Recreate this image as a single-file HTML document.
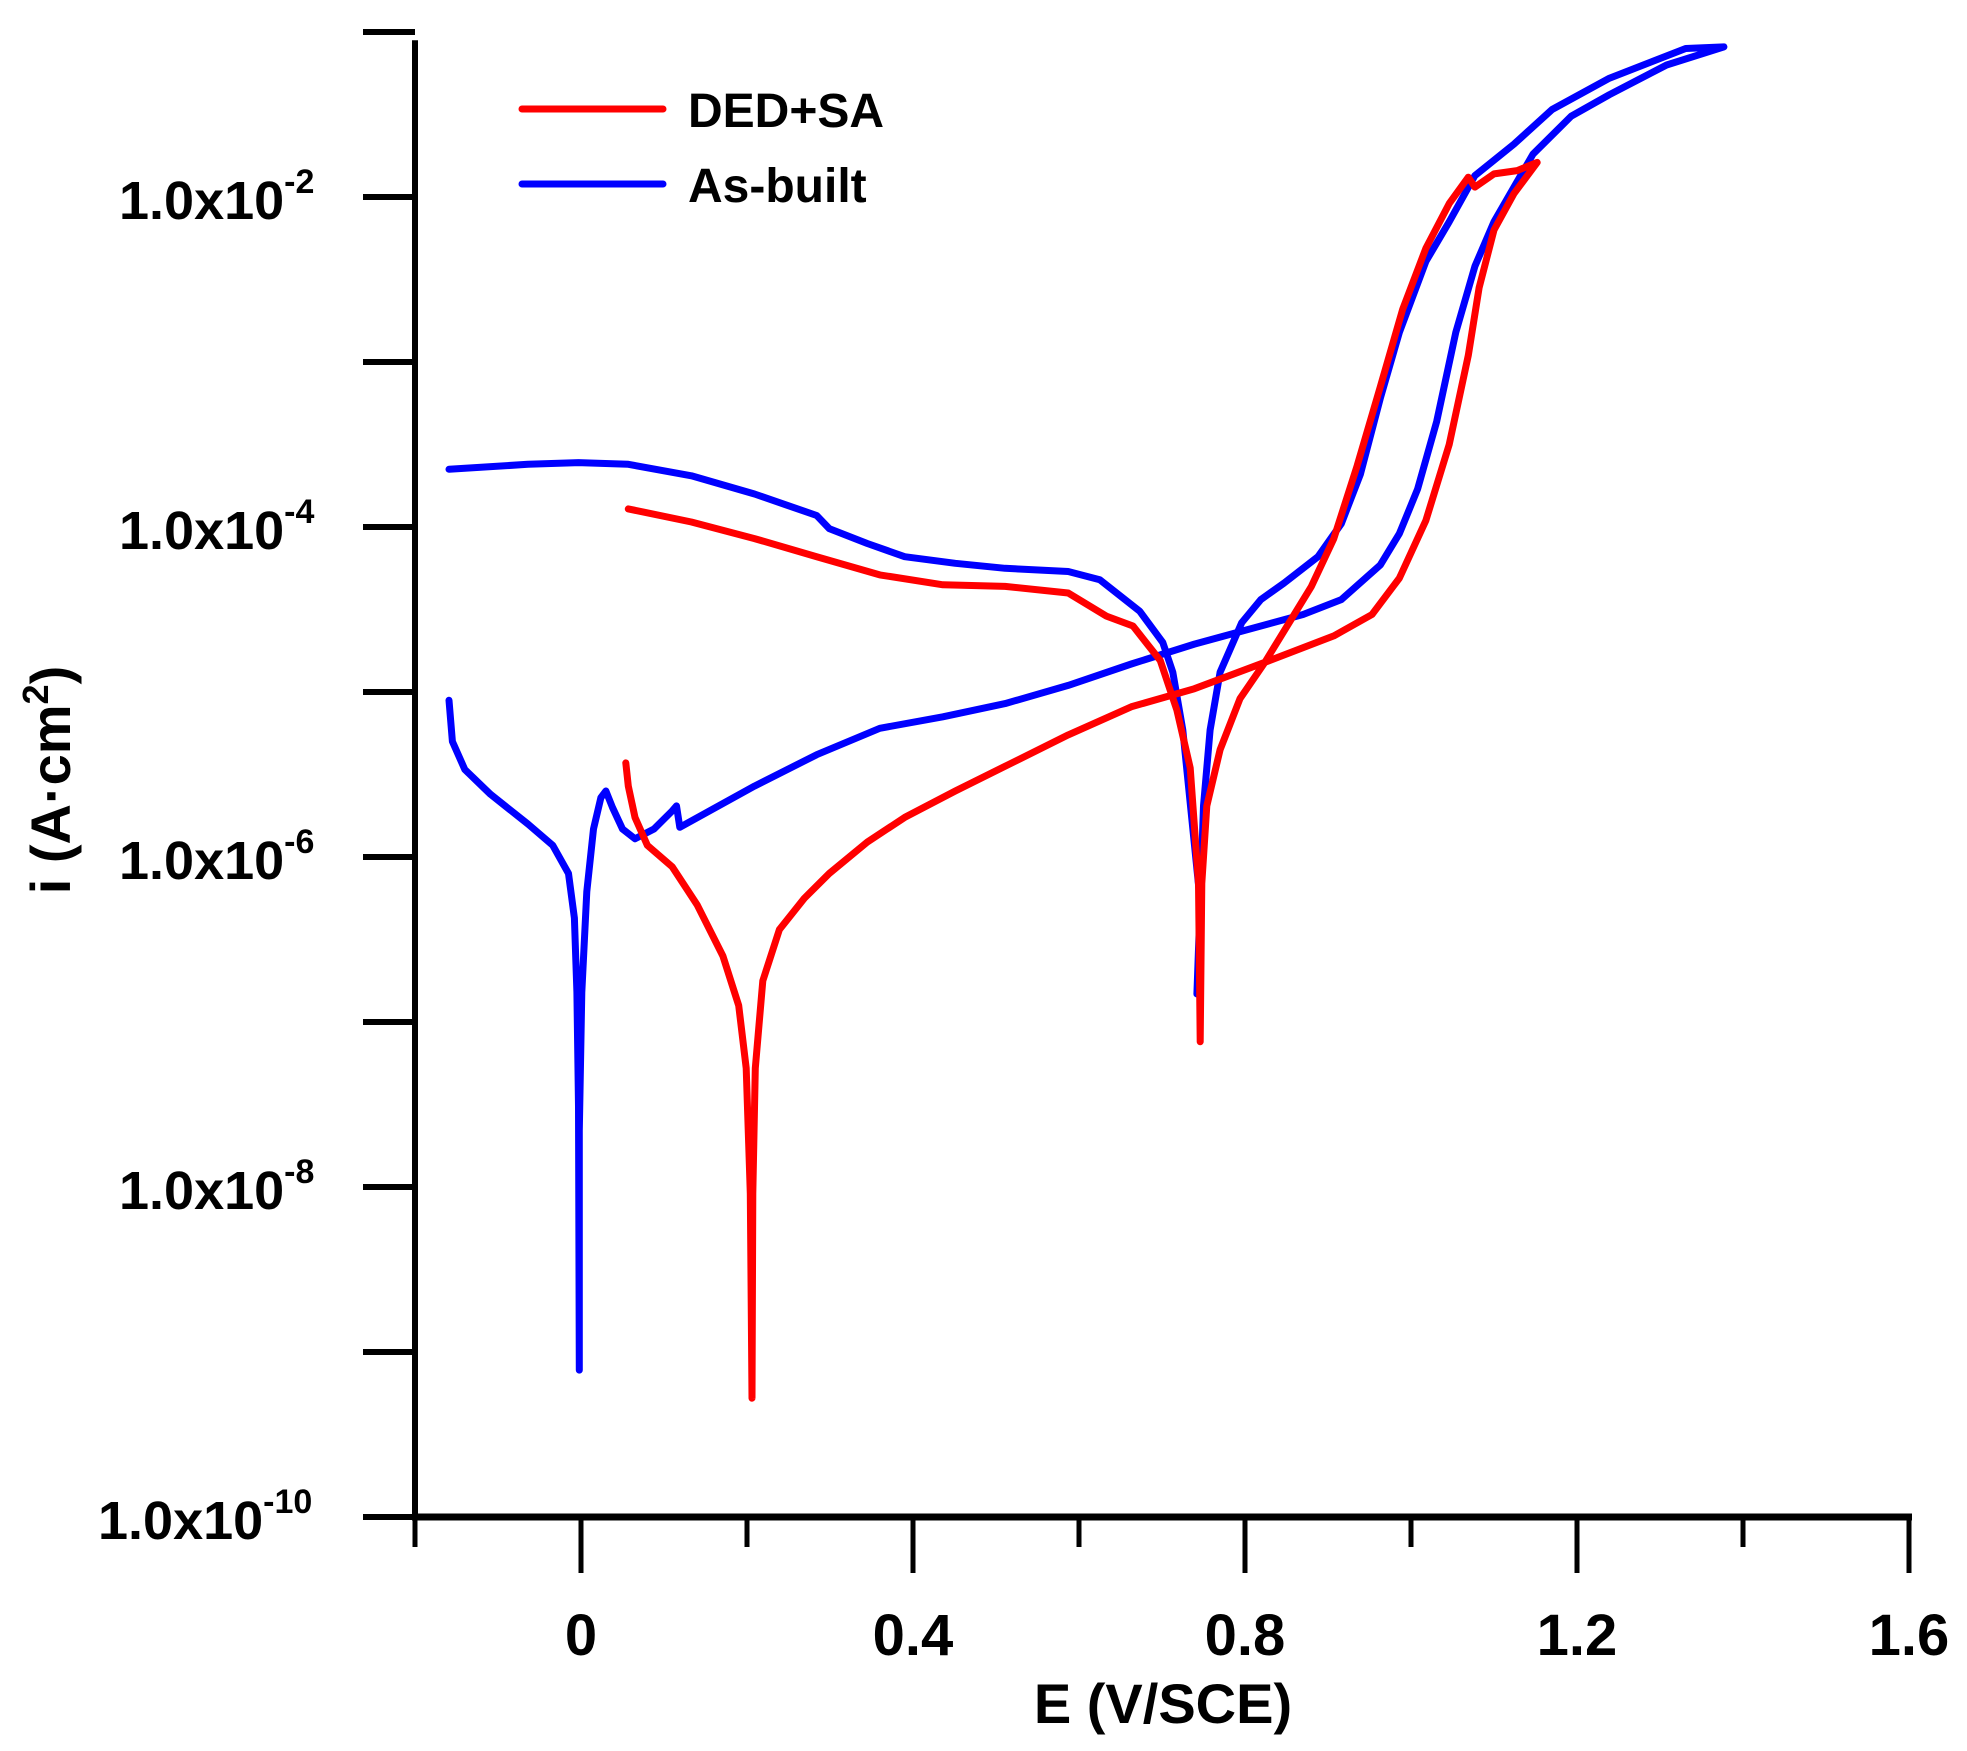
<!DOCTYPE html>
<html><head><meta charset="utf-8"><style>
body{margin:0;background:#fff}
svg{display:block}
text{font-family:"Liberation Sans",Arial,sans-serif;font-weight:bold;fill:#000}
</style></head><body>
<svg id="chart" width="1967" height="1751" viewBox="0 0 1967 1751" xmlns="http://www.w3.org/2000/svg">
<g id="axes"></g>
<g id="plot"></g>
<g>
<line x1="522" y1="109" x2="663" y2="109" stroke="#ff0000" stroke-width="7" stroke-linecap="round"/>
<text x="688" y="127" font-size="48">DED+SA</text>
<line x1="522" y1="184" x2="663" y2="184" stroke="#0000ff" stroke-width="7" stroke-linecap="round"/>
<text x="688" y="202" font-size="48">As-built</text>
</g>
<text x="1163" y="1723" font-size="56" text-anchor="middle">E (V/SCE)</text>
<text transform="translate(70,780) rotate(-90)" font-size="56" text-anchor="middle">i (A·cm<tspan font-size="36" dy="-22">2</tspan><tspan dy="22">)</tspan></text>
</svg>
<script>
const xTicks=[0,0.4,0.8,1.2,1.6];
const xTickLabels=["0","0.4","0.8","1.2","1.6"];
const yTickExps=[-2,-4,-6,-8,-10];
const yTickLabels=["-2","-4","-6","-8","-10"];
const blueE=[-0.159,-0.155,-0.140,-0.109,-0.064,-0.034,-0.015,-0.008,-0.005,-0.003,-0.002,-0.002,0.001,0.007,0.015,0.024,0.030,0.038,0.050,0.065,0.088,0.110,0.115,0.119,0.148,0.209,0.284,0.360,0.436,0.511,0.587,0.663,0.739,0.870,0.916,0.963,0.986,1.008,1.031,1.054,1.077,1.100,1.147,1.193,1.239,1.308,1.377,1.331,1.239,1.170,1.124,1.077,1.046,1.018,0.986,0.963,0.939,0.916,0.888,0.847,0.819,0.796,0.770,0.758,0.750,0.746,0.742,0.746,0.725,0.713,0.701,0.673,0.625,0.587,0.511,0.451,0.390,0.345,0.299,0.284,0.209,0.133,0.057,-0.003,-0.064,-0.159];
const blueLogI=[-5.05,-5.30,-5.47,-5.62,-5.80,-5.93,-6.10,-6.37,-6.82,-7.51,-9.11,-7.66,-6.82,-6.21,-5.83,-5.64,-5.60,-5.70,-5.83,-5.89,-5.83,-5.72,-5.69,-5.82,-5.74,-5.57,-5.38,-5.22,-5.15,-5.07,-4.96,-4.83,-4.71,-4.53,-4.44,-4.23,-4.04,-3.77,-3.36,-2.82,-2.42,-2.15,-1.74,-1.51,-1.38,-1.20,-1.09,-1.10,-1.28,-1.47,-1.68,-1.87,-2.15,-2.39,-2.82,-3.22,-3.68,-3.98,-4.18,-4.34,-4.44,-4.58,-4.88,-5.23,-5.69,-6.27,-6.83,-6.27,-5.23,-4.88,-4.70,-4.51,-4.32,-4.27,-4.25,-4.22,-4.18,-4.10,-4.01,-3.93,-3.80,-3.69,-3.62,-3.61,-3.62,-3.65];
const redE=[0.054,0.057,0.065,0.080,0.110,0.140,0.171,0.190,0.199,0.204,0.206,0.207,0.210,0.219,0.239,0.269,0.299,0.345,0.390,0.451,0.511,0.587,0.663,0.739,0.824,0.907,0.953,0.986,1.018,1.046,1.069,1.082,1.100,1.124,1.152,1.128,1.100,1.077,1.069,1.046,1.018,0.990,0.963,0.935,0.907,0.880,0.824,0.794,0.770,0.754,0.748,0.746,0.744,0.734,0.718,0.698,0.665,0.633,0.587,0.511,0.436,0.360,0.284,0.209,0.133,0.057];
const redLogI=[-5.43,-5.57,-5.76,-5.93,-6.06,-6.29,-6.60,-6.90,-7.28,-8.04,-9.28,-8.04,-7.28,-6.75,-6.44,-6.25,-6.10,-5.91,-5.76,-5.60,-5.45,-5.26,-5.09,-4.98,-4.82,-4.66,-4.53,-4.31,-3.96,-3.50,-2.96,-2.55,-2.20,-1.98,-1.79,-1.84,-1.86,-1.94,-1.88,-2.04,-2.31,-2.68,-3.15,-3.63,-4.07,-4.36,-4.82,-5.04,-5.35,-5.69,-6.16,-7.12,-6.16,-5.46,-5.11,-4.81,-4.60,-4.54,-4.40,-4.36,-4.35,-4.29,-4.18,-4.07,-3.97,-3.89];

const NS="http://www.w3.org/2000/svg";
function xS(e){return 581+(e)*830;}
function yS(l){return 197+(-2-l)*165;}
function mk(tag,attrs,parent){const el=document.createElementNS(NS,tag);for(const k in attrs)el.setAttribute(k,attrs[k]);parent.appendChild(el);return el;}
const axes=document.getElementById('axes');
const plot=document.getElementById('plot');
let a=mk('line',{x1:xS(-0.2),y1:yS(-1.05),x2:xS(-0.2),y2:yS(-10)+3,stroke:'#000','stroke-width':6},axes);


a=mk('line',{x1:xS(-0.2)-3,y1:yS(-10),x2:xS(1.6)+3,y2:yS(-10),stroke:'#000','stroke-width':7},axes);


for(let d=-1;d>=-10;d--){
  const t=mk('line',{x1:xS(-0.2)-52,y1:yS(d),x2:xS(-0.2),y2:yS(d),stroke:'#000','stroke-width':6},axes);
  
  
}
yTickExps.forEach((d,i)=>{
  const t=mk('text',{x:xS(-0.2)-72,y:yS(d)+22,'font-size':54},axes);
  
  
  t.textContent='1.0x10';
  const s=mk('tspan',{'font-size':34,dy:-26},t);
  s.textContent=yTickLabels[i];
  t.setAttribute('x', d===-10? 98 : 119);
});
for(let k=0;k<=9;k++){
  const e=-0.2+k*0.2;
  const major=(k%2===1);
  const t=mk('line',{x1:xS(e),y1:yS(-10),x2:xS(e),y2:yS(-10)+(major?56:30),stroke:'#000','stroke-width':5},axes);
  
  
}
xTicks.forEach((e,i)=>{
  const t=mk('text',{x:xS(e),y:1655,'font-size':58,'text-anchor':'middle'},axes);
  
  
  t.textContent=xTickLabels[i];
});
function series(E,L,color,name){
  const pts=E.map((e,i)=>xS(e).toFixed(1)+','+yS(L[i]).toFixed(1)).join(' ');
  const p=mk('polyline',{points:pts,fill:'none',stroke:color,'stroke-width':7,'stroke-linejoin':'round','stroke-linecap':'round'},plot);
  
  
}
series(blueE,blueLogI,'#0000ff','as-built-curve');
series(redE,redLogI,'#ff0000','ded-sa-curve');
</script>
</body></html>
